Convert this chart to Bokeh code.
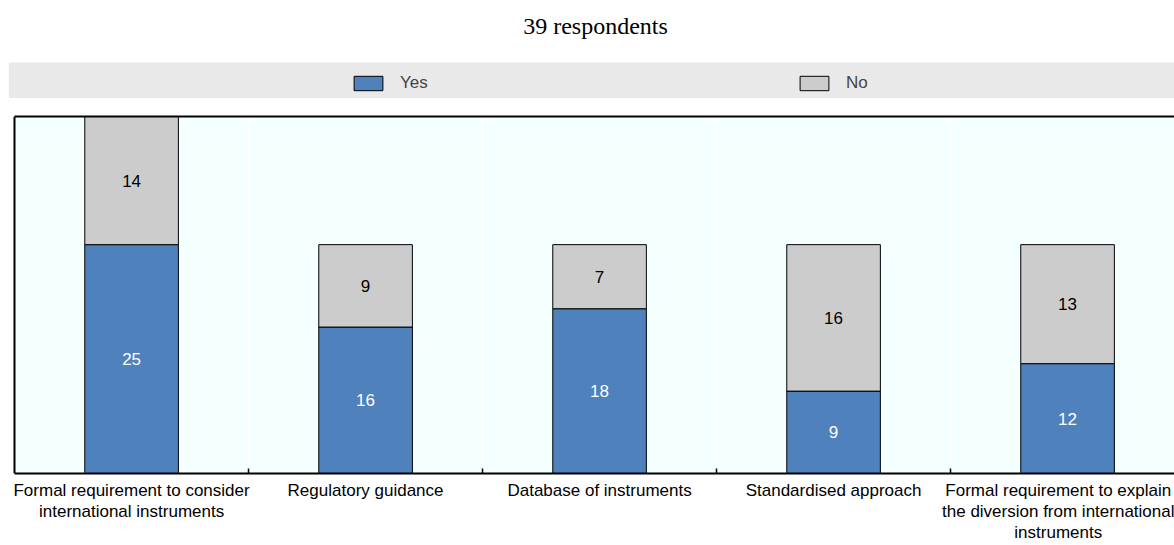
import numpy as np
from bokeh.plotting import figure
from bokeh.models import (ColumnDataSource, Range1d, LinearAxis, FixedTicker, Legend, LegendItem,
                          Grid, Label, BoxAnnotation)
from bokeh.layouts import column
from bokeh.embed import file_html
from bokeh.resources import INLINE
from bokeh.core.properties import value

title_text = "39 respondents"
categories = [
    "Formal requirement to consider\ninternational instruments",
    "Regulatory guidance",
    "Database of instruments",
    "Standardised approach",
    "Formal requirement to explain\nthe diversion from international\ninstruments",
]
yes_values = [25, 16, 18, 9, 12]
no_values = [14, 9, 7, 16, 13]
series_names = ["Yes", "No"]

YES_COLOR = "#4f81bd"
NO_COLOR = "#cccccc"
PLOT_BG = "#f4ffff"
SANS = "Liberation Sans"
SERIF = "Liberation Serif"
FS = "17px"

n = len(categories)
xs = np.arange(n) + 0.5
yes = np.array(yes_values, dtype=float)
no = np.array(no_values, dtype=float)
src = ColumnDataSource(dict(
    x=xs, yes=yes, total=yes + no,
    yes_mid=yes / 2, no_mid=yes + no / 2,
    yes_lbl=[str(int(v)) for v in yes], no_lbl=[str(int(v)) for v in no],
))

W = 1174
BAND_H = 98

# ---- title + legend band (frame spans whole band figure; y in pixels) ----
band = figure(width=W, height=BAND_H, x_range=Range1d(-3, -2), y_range=Range1d(0, BAND_H),
              title=None, output_backend="svg", toolbar_location=None,
              x_axis_location=None, y_axis_location=None,
              min_border_left=8, min_border_right=0, min_border_top=0, min_border_bottom=0,
              background_fill_color="white", border_fill_color="white", outline_line_color=None)
band.grid.visible = False
band.add_layout(BoxAnnotation(bottom=0, top=36, fill_color="#e9e9e9", fill_alpha=1.0,
                              line_color=None, level="underlay"))
band.add_layout(Label(x=-2.5, y=73, x_offset=4, text=title_text,
                      text_align="center", text_baseline="middle",
                      text_font=SERIF, text_font_size="24px", text_color="black"))

# legend key renderers (same series, outside this band's view)
r_yes = band.vbar(x="x", top="yes", width=0.4, source=src, fill_color=YES_COLOR, line_color="black")
r_no = band.vbar(x="x", bottom="yes", top="total", width=0.4, source=src, fill_color=NO_COLOR, line_color="black")
legend = Legend(items=[LegendItem(label=series_names[0], renderers=[r_yes]),
                       LegendItem(label=series_names[1], renderers=[r_no])],
                location=(342, 5), orientation="horizontal", padding=0, margin=0,
                spacing=366, glyph_width=36, glyph_height=18, label_standoff=14, label_width=30,
                label_text_font=SANS, label_text_font_size=FS,
                background_fill_alpha=0, border_line_color=None)
band.add_layout(legend)

# ---- main chart ----
p = figure(width=W, height=545 - BAND_H, x_range=Range1d(-0.026, n - 0.043), y_range=Range1d(0, 39),
           title=None, output_backend="svg", toolbar_location=None,
           x_axis_location=None, y_axis_location=None,
           min_border_left=8, min_border_right=0, min_border_top=18, min_border_bottom=0,
           background_fill_color="white", border_fill_color="white", outline_line_color=None)
p.grid.visible = False
p.add_layout(BoxAnnotation(left=0, fill_color=PLOT_BG, fill_alpha=1.0, line_color=None, level="underlay"))
boundaries = list(range(1, n))
p.add_layout(Grid(dimension=0, ticker=FixedTicker(ticks=boundaries),
                  grid_line_color="white", grid_line_width=2))

def blank_axis(**kw):
    return LinearAxis(ticker=FixedTicker(ticks=[]), axis_line_color="black", axis_line_width=2,
                      major_tick_in=0, major_tick_out=0, minor_tick_in=0, minor_tick_out=0,
                      major_label_standoff=0, **kw)

p.add_layout(blank_axis(fixed_location=0), "left")
p.add_layout(blank_axis(bounds=(0, n)), "above")

x_ax = LinearAxis(ticker=FixedTicker(ticks=list(xs), minor_ticks=boundaries), bounds=(0, n),
                  axis_line_color="black", axis_line_width=2,
                  major_tick_in=0, major_tick_out=0,
                  minor_tick_in=5, minor_tick_out=0, minor_tick_line_color="black", minor_tick_line_width=1.5,
                  major_label_overrides={float(v): c for v, c in zip(xs, categories)},
                  major_label_text_font=SANS, major_label_text_font_size=FS,
                  major_label_text_line_height=1.13,
                  major_label_text_color="black", major_label_standoff=7)
p.add_layout(x_ax, "below")

p.vbar(x="x", bottom=0, top="yes", width=0.4, source=src,
       fill_color=YES_COLOR, line_color="black", line_width=1)
p.vbar(x="x", bottom="yes", top="total", width=0.4, source=src,
       fill_color=NO_COLOR, line_color="black", line_width=1)
p.text(x="x", y="yes_mid", text="yes_lbl", source=src, text_align="center", text_baseline="middle",
       text_color="white", text_font=value(SANS), text_font_size=FS)
p.text(x="x", y="no_mid", text="no_lbl", source=src, text_align="center", text_baseline="middle",
       text_color="black", text_font=value(SANS), text_font_size=FS)

layout = column(band, p, spacing=0)
open("out.html", "w").write(file_html(layout, INLINE))
